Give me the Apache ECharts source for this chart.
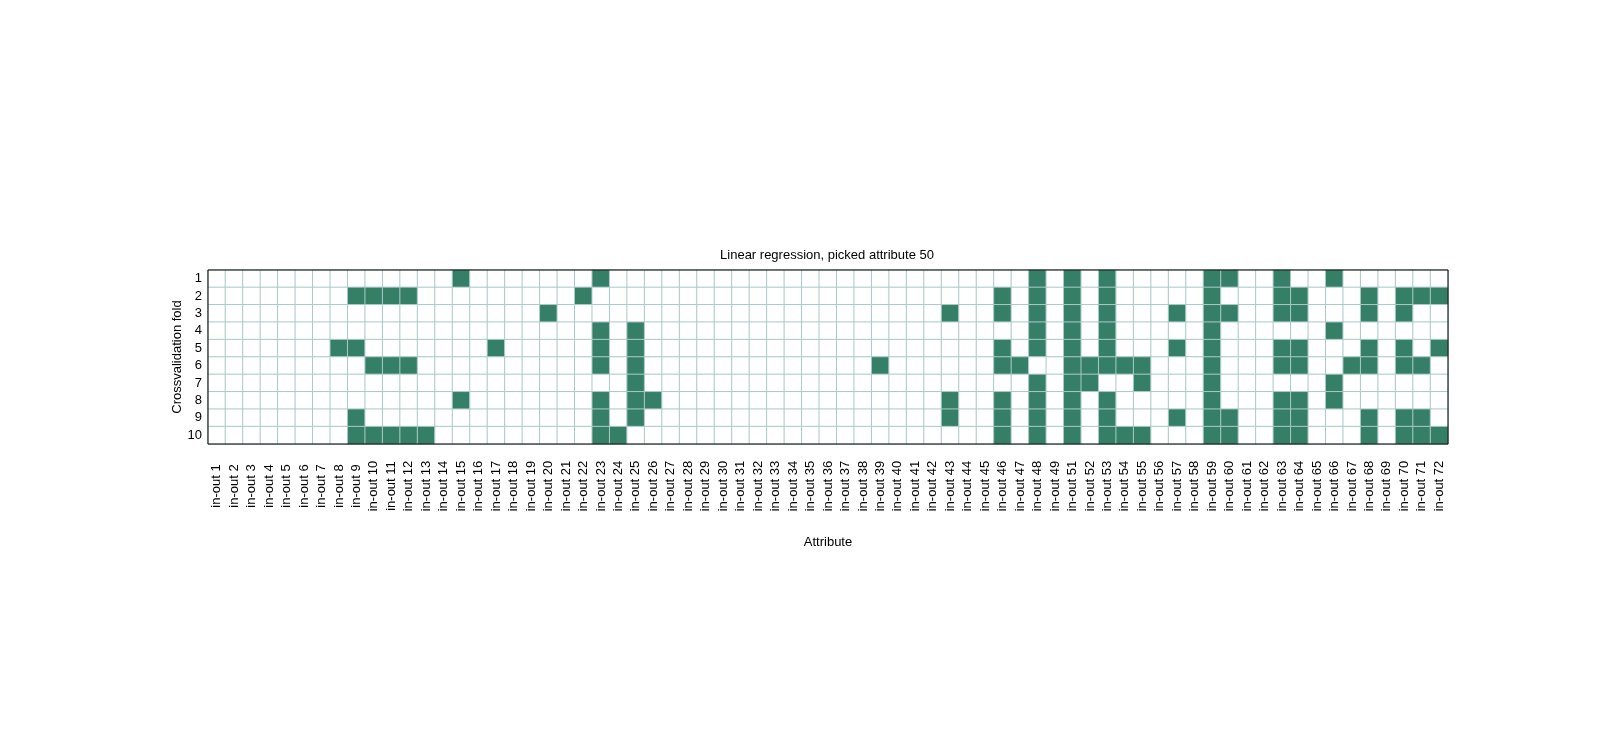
<!DOCTYPE html>
<html style="height: 100%">
<head>
    <meta charset="UTF-8">
    <title>Linear regression, picked attribute 50</title>
    <script src="https://cdn.jsdelivr.net/npm/echarts@6/dist/echarts.min.js"></script>
</head>
<body style="height: 100%; margin: 0; background: #fff">
    <div id="main" style="width: 1600px; height: 740px;"></div>
    <script>
        // attribute numbers on the x axis (attribute 50 is the picked one, so it is missing)
        var attributeNumbers = [
            1, 2, 3, 4, 5, 6, 7, 8, 9, 10, 11, 12, 13, 14, 15, 16, 17, 18, 19, 20,
            21, 22, 23, 24, 25, 26, 27, 28, 29, 30, 31, 32, 33, 34, 35, 36, 37, 38, 39, 40,
            41, 42, 43, 44, 45, 46, 47, 48, 49, 51, 52, 53, 54, 55, 56, 57, 58, 59, 60,
            61, 62, 63, 64, 65, 66, 67, 68, 69, 70, 71, 72
        ];
        var attributeLabels = attributeNumbers.map(function (n) { return 'in-out ' + n; });

        // crossvalidation folds on the y axis
        var folds = ['1', '2', '3', '4', '5', '6', '7', '8', '9', '10'];

        // attributes selected in each fold
        var fold1 = [15, 23, 48, 51, 53, 59, 60, 63, 66];
        var fold2 = [9, 10, 11, 12, 22, 46, 48, 51, 53, 59, 63, 64, 68, 70, 71, 72];
        var fold3 = [20, 43, 46, 48, 51, 53, 57, 59, 60, 63, 64, 68, 70];
        var fold4 = [23, 25, 48, 51, 53, 59, 66];
        var fold5 = [8, 9, 17, 23, 25, 46, 48, 51, 53, 57, 59, 63, 64, 68, 70, 72];
        var fold6 = [10, 11, 12, 23, 25, 39, 46, 47, 51, 52, 53, 54, 55, 59, 63, 64, 67, 68, 70, 71];
        var fold7 = [25, 48, 51, 52, 55, 59, 66];
        var fold8 = [15, 23, 25, 26, 43, 46, 48, 51, 53, 59, 63, 64, 66];
        var fold9 = [9, 23, 25, 43, 46, 48, 51, 53, 57, 59, 60, 63, 64, 68, 70, 71];
        var fold10 = [9, 10, 11, 12, 13, 23, 24, 46, 48, 51, 53, 54, 55, 59, 60, 63, 64, 68, 70, 71, 72];
        var selected = [fold1, fold2, fold3, fold4, fold5, fold6, fold7, fold8, fold9, fold10];

        // one cell per fold/attribute: 1 = selected, 0 = not
        var cells = [];
        selected.forEach(function (picked, row) {
            attributeNumbers.forEach(function (n, col) {
                cells.push([col, row, picked.indexOf(n) >= 0 ? 1 : 0]);
            });
        });

        var font = 'Liberation Sans, Arial, sans-serif';
        var myChart = echarts.init(document.getElementById('main'));

        var option = {
            animation: false,
            backgroundColor: '#fff',
            title: {
                text: 'Linear regression, picked attribute 50',
                left: 822,
                top: 244,
                textAlign: 'center',
                textStyle: { fontSize: 13, fontWeight: 'normal', color: '#000', fontFamily: font }
            },
            grid: {
                left: 208,
                right: 152,
                top: 270,
                bottom: 296,
                show: true,
                z: 5,
                backgroundColor: 'transparent',
                borderColor: '#000',
                borderWidth: 1
            },
            xAxis: {
                type: 'category',
                data: attributeLabels,
                name: 'Attribute',
                nameLocation: 'middle',
                nameGap: 92,
                nameMoveOverlap: false,
                nameTextStyle: { fontSize: 13, color: '#000', fontFamily: font },
                axisLine: { show: false },
                axisTick: { show: false },
                splitLine: { show: false },
                axisLabel: {
                    rotate: 90,
                    interval: 0,
                    align: 'center',
                    verticalAlign: 'middle',
                    margin: 42,
                    fontSize: 13,
                    color: '#000',
                    fontFamily: font
                }
            },
            yAxis: {
                type: 'category',
                data: folds,
                inverse: true,
                name: 'Crossvalidation fold',
                nameLocation: 'middle',
                nameGap: 24,
                nameMoveOverlap: false,
                nameTextStyle: { fontSize: 13, color: '#000', fontFamily: font },
                axisLine: { show: false },
                axisTick: { show: false },
                splitLine: { show: false },
                axisLabel: { margin: 6, fontSize: 13, color: '#000', fontFamily: font }
            },
            visualMap: {
                show: false,
                type: 'piecewise',
                dimension: 2,
                pieces: [
                    { value: 0, color: '#ffffff' },
                    { value: 1, color: '#347f66' }
                ]
            },
            series: [{
                type: 'heatmap',
                data: cells,
                itemStyle: { borderColor: '#aac9c6', borderWidth: 1 },
                emphasis: { disabled: true }
            }]
        };

        myChart.setOption(option);
    </script>
</body>
</html>
